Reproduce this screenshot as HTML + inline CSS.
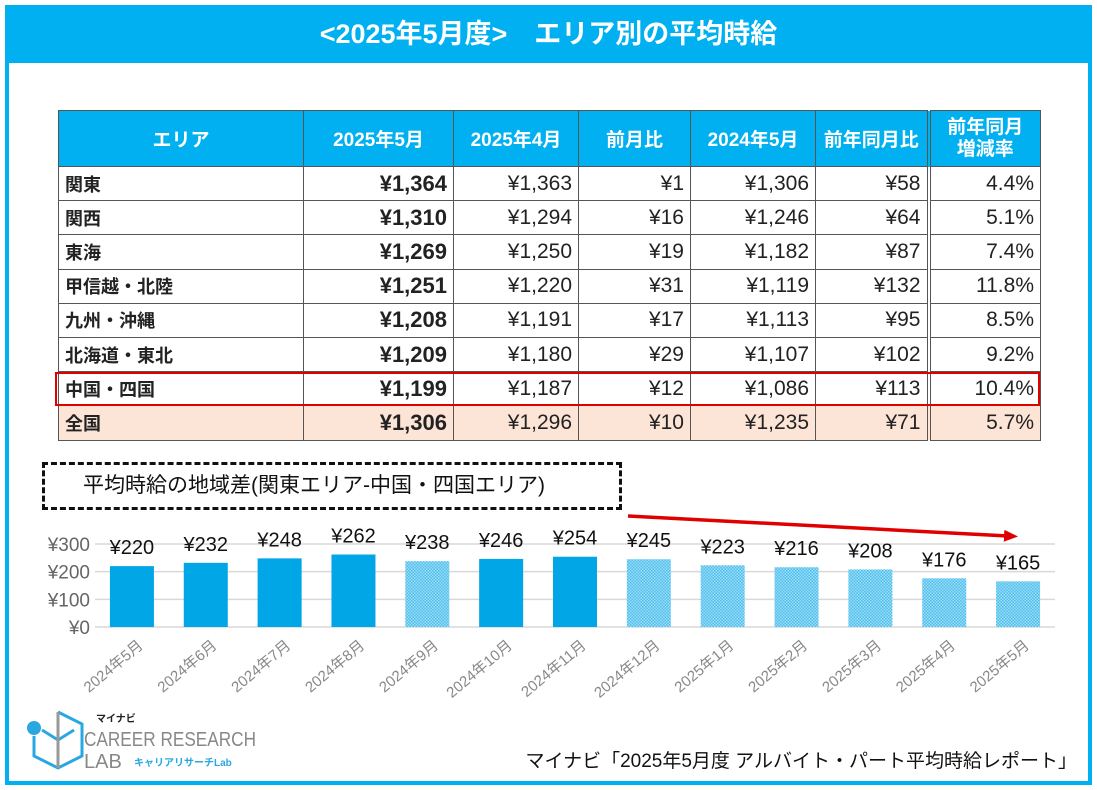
<!DOCTYPE html>
<html><head><meta charset="utf-8">
<style>
*{margin:0;padding:0;box-sizing:border-box}
body{width:1097px;height:790px;background:#fff;font-family:"Liberation Sans","Noto Sans CJK JP",sans-serif;position:relative;overflow:hidden}
#frame{position:absolute;left:5px;top:5px;width:1087px;height:780px;border:4px solid #00b0f0}
#title{position:absolute;left:5px;top:5px;width:1087px;height:58px;background:#00b0f0;color:#fff;font-size:27px;font-weight:bold;text-align:center;line-height:58px}
table{position:absolute;left:58px;top:110px;border-collapse:collapse;font-size:21px}
td,th{border:1px solid #555;height:34.2px;padding:0 6px}
th{background:#00b0f0;color:#fff;font-weight:bold;height:56px;text-align:center;font-size:19px}
td{text-align:right;color:#222}
td:first-child{text-align:left;font-weight:bold;font-size:18px}
td.b{font-weight:bold;font-size:22px}
tr.all td{background:#fce4d6}
.dl{border-left:4px double #555}
#hl{position:absolute;left:55px;top:372px;width:985px;height:34px;border:2px solid #e00000}
#dbox{position:absolute;left:42px;top:462px;width:580px;height:48px;border:3px dashed #111;font-size:21px;line-height:42px;padding-left:38px;color:#111}
#foot{position:absolute;right:20px;top:746px;font-size:19px;color:#111}
</style></head><body>
<div id="frame"></div>
<div id="title">&lt;2025年5月度&gt;　エリア別の平均時給</div>
<table>
<tr><th style="width:245px">エリア</th><th style="width:150px">2025年5月</th><th style="width:125px">2025年4月</th><th style="width:112px">前月比</th><th style="width:125px">2024年5月</th><th style="width:113px">前年同月比</th><th class="dl" style="width:112px;line-height:22px">前年同月<br>増減率</th></tr>
<tr><td>関東</td><td class="b">¥1,364</td><td>¥1,363</td><td>¥1</td><td>¥1,306</td><td>¥58</td><td class="dl">4.4%</td></tr>
<tr><td>関西</td><td class="b">¥1,310</td><td>¥1,294</td><td>¥16</td><td>¥1,246</td><td>¥64</td><td class="dl">5.1%</td></tr>
<tr><td>東海</td><td class="b">¥1,269</td><td>¥1,250</td><td>¥19</td><td>¥1,182</td><td>¥87</td><td class="dl">7.4%</td></tr>
<tr><td>甲信越・北陸</td><td class="b">¥1,251</td><td>¥1,220</td><td>¥31</td><td>¥1,119</td><td>¥132</td><td class="dl">11.8%</td></tr>
<tr><td>九州・沖縄</td><td class="b">¥1,208</td><td>¥1,191</td><td>¥17</td><td>¥1,113</td><td>¥95</td><td class="dl">8.5%</td></tr>
<tr><td>北海道・東北</td><td class="b">¥1,209</td><td>¥1,180</td><td>¥29</td><td>¥1,107</td><td>¥102</td><td class="dl">9.2%</td></tr>
<tr><td>中国・四国</td><td class="b">¥1,199</td><td>¥1,187</td><td>¥12</td><td>¥1,086</td><td>¥113</td><td class="dl">10.4%</td></tr>
<tr class="all"><td>全国</td><td class="b">¥1,306</td><td>¥1,296</td><td>¥10</td><td>¥1,235</td><td>¥71</td><td class="dl">5.7%</td></tr>
</table>
<div id="hl"></div>
<div id="dbox">平均時給の地域差(関東エリア-中国・四国エリア)</div>
<svg id="chart" width="1097" height="790" style="position:absolute;left:0;top:0">
<defs><pattern id="hatch" width="3" height="3" patternUnits="userSpaceOnUse"><rect width="3" height="3" fill="#9edcf6"/><rect width="1.5" height="1.5" fill="#4cc0ee"/><rect x="1.5" y="1.5" width="1.5" height="1.5" fill="#4cc0ee"/></pattern>
<marker id="ah" markerWidth="14" markerHeight="12" refX="4" refY="6" orient="auto" markerUnits="userSpaceOnUse"><path d="M0,0 L14,6 L0,12z" fill="#e00000"/></marker></defs>
<g id="g"></g>
<line x1="628" y1="516" x2="1008" y2="536" stroke="#e00000" stroke-width="3.5" marker-end="url(#ah)"/>
</svg>
<svg width="260" height="80" style="position:absolute;left:22px;top:708px">
<circle cx="12" cy="20" r="7" fill="#29a8e0"/>
<path d="M20,22 L36,32 L52,22 M36,32 L36,60 M12,28 L12,48 L36,60 L60,48 L60,16 L36,4" stroke="#29a8e0" stroke-width="3" fill="none"/>
<path d="M36,4 L36,60" stroke="#999" stroke-width="3"/>
<text x="74" y="14" font-size="10" font-weight="bold" fill="#222">マイナビ</text>
<text x="62" y="38" font-size="20" fill="#888" textLength="172" lengthAdjust="spacingAndGlyphs">CAREER RESEARCH</text>
<text x="62" y="60" font-size="20" fill="#888">LAB</text>
<text x="112" y="58" font-size="10" font-weight="bold" fill="#29a8e0">キャリアリサーチLab</text>
</svg>
<div id="foot">マイナビ「2025年5月度 アルバイト・パート平均時給レポート」</div>
<script>
const categories=["2024年5月","2024年6月","2024年7月","2024年8月","2024年9月","2024年10月","2024年11月","2024年12月","2025年1月","2025年2月","2025年3月","2025年4月","2025年5月"];
const values=[220,232,248,262,238,246,254,245,223,216,208,176,165];
const hatched=[false,false,false,false,true,false,false,true,true,true,true,true,true];
const ticks=[0,100,200,300];
const NS="http://www.w3.org/2000/svg",g=document.getElementById('g');
const x0=95,x1=1055,y0=627,yT=544;
const y=v=>y0-(v/300)*(y0-yT);
const bw=(x1-x0)/categories.length;
const xc=i=>x0+bw*(i+0.5);
function mk(t,a){const e=document.createElementNS(NS,t);for(const k in a)e.setAttribute(k,a[k]);g.appendChild(e);return e;}
ticks.forEach(t=>{
  const l=mk('line',{x1:x0,x2:x1,y1:y(t),y2:y(t),stroke:'#d9d9d9','stroke-width':1.5});
  
  
  const tx=mk('text',{x:90,y:y(t)+7,'text-anchor':'end','font-size':19,fill:'#666'});
  tx.textContent='¥'+t;
  
  
});
values.forEach((v,i)=>{
  const r=mk('rect',{x:xc(i)-22,y:y(v),width:44,height:y0-y(v),fill:hatched[i]?'url(#hatch)':'#00a6e6'});
  
  
  const t=mk('text',{x:xc(i),y:y(v)-12,'text-anchor':'middle','font-size':20,fill:'#111'});
  t.textContent='¥'+v;
  
  
  const c=mk('text',{x:xc(i)+12,y:y0+20,'text-anchor':'end','font-size':15,fill:'#888',transform:`rotate(-40 ${xc(i)+12} ${y0+20})`});
  c.textContent=categories[i];
  
  
});
</script>
</body></html>
